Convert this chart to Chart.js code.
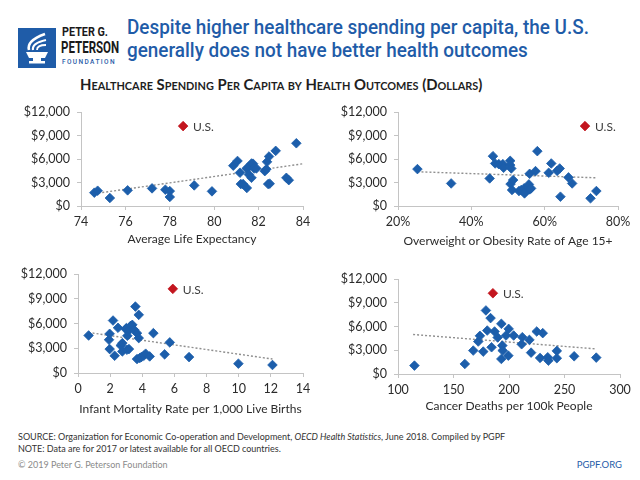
<!DOCTYPE html>
<html><head><meta charset="utf-8">
<script src="https://cdn.jsdelivr.net/npm/chart.js@4"></script>
<style>
html,body{margin:0;padding:0;background:#fff}
body{width:640px;height:480px;position:relative;overflow:hidden;font-family:Lato,"Open Sans",sans-serif}
.abs{position:absolute}
canvas{position:absolute}
#title{left:127px;top:16px;color:#1f5ca8;font-family:Roboto,sans-serif;font-weight:500;font-size:21px;line-height:23px;white-space:nowrap;transform:scaleX(0.9);transform-origin:0 0}
#sub{left:80px;top:75px;font-weight:700;font-size:15px;font-variant:small-caps;color:#1e1e1e;white-space:nowrap;transform:scaleX(0.99);transform-origin:0 0}
.foot{left:18px;font-size:9px;color:#333;white-space:nowrap}
</style></head><body>

<div class="abs" style="left:18px;top:28px;width:38px;height:40px;background:#1f5ca8">
<svg width="38" height="40" viewBox="0 0 38 40">
 <path d="M11 22 C9 15,16 10,27 6" stroke="#fff" stroke-width="2.6" fill="none"/>
 <path d="M15 22 C14 17,19 14,28 12" stroke="#fff" stroke-width="2.2" fill="none"/>
 <path d="M19 22 C19 19,22 17,28 17" stroke="#fff" stroke-width="1.8" fill="none"/>
 <path d="M8 24 H30 L27 30 H11 Z" fill="#fff"/>
 <rect x="15" y="30" width="8" height="3" fill="#fff"/>
 <rect x="11" y="33" width="16" height="2.5" fill="#fff"/>
</svg>
</div>
<div class="abs" style="left:62px;top:26px;font-family:Roboto,sans-serif;font-weight:700;font-size:12px;color:#1a1a1a;line-height:13px;transform:scaleX(0.9);transform-origin:0 0">PETER G.</div>
<div class="abs" style="left:61px;top:39px;font-family:Roboto,sans-serif;font-weight:700;font-size:16px;color:#1a1a1a;line-height:17px;transform:scaleX(0.72);transform-origin:0 0">PETERSON</div>
<div class="abs" style="left:62px;top:58px;font-family:Roboto,sans-serif;font-weight:500;font-size:6.5px;color:#1f5ca8;letter-spacing:1.4px;line-height:8px">FOUNDATION</div>

<div class="abs" id="title">Despite higher healthcare spending per capita, the U.S.<br>generally does not have better health outcomes</div>
<div class="abs" id="sub">Healthcare Spending Per Capita by Health Outcomes (Dollars)</div>

<canvas id="c1" width="320" height="155" style="left:0;top:95px;width:320px;height:155px"></canvas>
<canvas id="c2" width="320" height="155" style="left:320px;top:95px;width:320px;height:155px"></canvas>
<canvas id="c3" width="320" height="160" style="left:0;top:258px;width:320px;height:160px"></canvas>
<canvas id="c4" width="320" height="160" style="left:320px;top:258px;width:320px;height:160px"></canvas>

<div class="abs foot" style="top:431px;line-height:12px">SOURCE: Organization for Economic Co-operation and Development, <i>OECD Health Statistics</i>, June 2018. Compiled by PGPF<br>NOTE: Data are for 2017 or latest available for all OECD countries.</div>
<div class="abs foot" style="top:459px;color:#8a8a8a">© 2019 Peter G. Peterson Foundation</div>
<div class="abs" style="right:18px;top:459px;font-size:9.5px;color:#1f5ca8">PGPF.ORG</div>

<script>
// ---------- data ----------
const usSpend = 10200;

const lifeExp = [74.6, 74.75, 75.3, 76.1, 77.2, 77.8, 78.0, 78.0, 79.1, 79.9, 80.86, 81.05, 81.16, 81.2, 81.3, 81.47, 81.46, 81.56, 81.56, 81.68, 81.68, 81.75, 81.8, 81.9, 82.28, 82.35, 82.38, 82.47, 82.43, 82.5, 82.77, 83.25, 83.36, 83.7];
const lifeSpend = [1700, 1950, 1020, 2000, 2250, 2080, 1900, 1150, 2630, 1870, 5150, 5750, 4250, 2800, 2800, 2300, 4790, 5000, 4030, 5430, 3600, 5400, 4790, 4790, 4450, 4700, 5640, 6320, 2800, 2850, 7040, 3600, 3300, 8010];
const usLife = 78.6;
const lifeTrendX = [74.6, 84];
const lifeTrendY = [1570, 5390];

const obesity = [25.3, 34.5, 45.0, 45.9, 46.5, 47.5, 48.6, 48.8, 50.6, 50.6, 50.9, 50.7, 51.4, 51.1, 53.0, 53.6, 54.4, 54.8, 54.5, 55.5, 55.7, 55.9, 56.3, 55.9, 57.5, 58.0, 61.1, 61.8, 63.4, 64.1, 64.3, 66.5, 67.5, 72.5, 74.1];
const obesitySpend = [4710, 2880, 3520, 6360, 5430, 5340, 5340, 4880, 5770, 5220, 4790, 2800, 3310, 2040, 1910, 2040, 2250, 1820, 1610, 2460, 2760, 2120, 2250, 4110, 4450, 7000, 4240, 5430, 4490, 4790, 1190, 3650, 2880, 980, 1910];
const usObesity = 71.0;
const obesityTrendX = [25.3, 74.1];
const obesityTrendY = [4370, 3600];

const infant = [0.66, 1.93, 1.97, 1.97, 2.18, 2.28, 2.49, 2.66, 2.76, 2.76, 2.97, 3.01, 3.05, 3.07, 3.17, 3.22, 3.28, 3.38, 3.49, 3.57, 3.67, 3.67, 3.78, 3.78, 3.84, 3.94, 4.09, 4.21, 4.46, 4.69, 5.39, 5.71, 6.91, 9.98, 12.1];
const infantSpend = [4550, 4030, 4750, 2900, 6360, 2090, 5480, 3340, 3620, 2620, 5320, 5440, 2820, 4510, 2900, 5240, 5720, 5840, 5240, 8050, 4830, 1690, 7050, 4230, 1810, 1930, 2090, 2340, 2010, 4830, 2260, 3710, 1930, 1130, 970];
const usInfant = 5.9;
const infantTrendX = [0.66, 12.1];
const infantTrendY = [4910, 1690];

const cancer = [114.8, 160.2, 167.8, 172.3, 173.8, 176.8, 179.2, 180.4, 183.4, 184.3, 187.0, 189.8, 193.1, 193.1, 194.0, 194.3, 197.3, 199.4, 199.7, 204.2, 211.4, 212.0, 218.4, 219.9, 225.0, 228.0, 230.4, 234.9, 235.5, 243.1, 243.1, 258.7, 278.6];
const cancerSpend = [1060, 1270, 2960, 4100, 4820, 2830, 8030, 5490, 7060, 3380, 5370, 4610, 6340, 1900, 3590, 2960, 4860, 2320, 5700, 4860, 3760, 4650, 4310, 2700, 5370, 2030, 5160, 2110, 1690, 2920, 1990, 2240, 2070];
const usCancer = 185.5;
const cancerTrendX = [113.6, 278.6];
const cancerTrendY = [4990, 3170];

// ---------- styling ----------
const BLUE = '#1c5eab';
const RED = '#c3161f';
const AXIS = '#c4c4c4';
const TXT = '#2b2b2b';
const FONT = 'Lato';

const usLabel = {
  id: 'usLabel',
  afterDatasetsDraw(chart) {
    const el = chart.getDatasetMeta(2).data[0];
    const c = chart.ctx;
    c.save();
    c.font = '12px ' + FONT;
    c.fillStyle = '#3c3c3c';
    c.textAlign = 'left';
    c.textBaseline = 'middle';
    c.fillText('U.S.', el.x + 10, el.y + 1);
    c.restore();
  }
};

function panel(id, xs, ys, usX, tX, tY, xs_opts, g) {
  const pts = xs.map((x, i) => ({x: x, y: ys[i]}));
  const trend = tX.map((x, i) => ({x: x, y: tY[i]}));
  new Chart(document.getElementById(id), {
    type: 'scatter',
    data: {
      datasets: [
        {label: 'trend', type: 'line', data: trend, borderColor: '#8f8f8f', borderWidth: 1.4,
         borderDash: [2, 2], pointRadius: 0, fill: false, order: 3},
        {label: 'OECD', data: pts, pointStyle: 'rectRot', pointRadius: 4.8, backgroundColor: BLUE,
         borderColor: BLUE, borderWidth: 0.8, order: 2},
        {label: 'U.S.', data: [{x: usX, y: usSpend}], pointStyle: 'rectRot', pointRadius: 4.8,
         backgroundColor: RED, borderColor: RED, borderWidth: 0.8, order: 1}
      ]
    },
    options: {
      responsive: false, animation: false, devicePixelRatio: 1,
      layout: {padding: {top: g.pt, right: g.pr, left: 0, bottom: 0}},
      plugins: {legend: {display: false}, tooltip: {enabled: false}},
      scales: {
        x: {
          type: 'linear', min: xs_opts.min, max: xs_opts.max,
          ticks: {stepSize: xs_opts.step, callback: xs_opts.fmt, font: {family: FONT, size: 12.5}, color: TXT, padding: 4, maxRotation: 0},
          grid: {display: true, drawOnChartArea: false, drawTicks: true, tickLength: 4, color: AXIS},
          border: {color: AXIS},
          title: {display: true, text: xs_opts.title, font: {family: FONT, size: 12}, color: TXT, padding: {top: 0, bottom: g.tb}},
          afterFit: s => { s.height = g.xh; }
        },
        y: {
          min: 0, max: 12000,
          ticks: {stepSize: 3000, callback: v => '$' + v.toLocaleString('en-US'), font: {family: FONT, size: 12.5}, color: TXT, padding: 7},
          grid: {display: true, drawOnChartArea: false, drawTicks: true, tickLength: 4, color: AXIS},
          border: {color: AXIS},
          afterFit: s => { s.width = g.yw; }
        }
      }
    },
    plugins: [usLabel]
  });
}

panel('c1', lifeExp, lifeSpend, usLife, lifeTrendX, lifeTrendY,
  {min: 74, max: 84, step: 2, fmt: v => v, title: 'Average Life Expectancy'},
  {yw: 81, pr: 17, pt: 17, xh: 44, tb: 4});
panel('c2', obesity, obesitySpend, usObesity, obesityTrendX, obesityTrendY,
  {min: 20, max: 80, step: 20, fmt: v => v + '%', title: 'Overweight or Obesity Rate of Age 15+'},
  {yw: 78, pr: 22, pt: 17, xh: 44, tb: 2});
panel('c3', infant, infantSpend, usInfant, infantTrendX, infantTrendY,
  {min: 0, max: 14, step: 2, fmt: v => v, title: 'Infant Mortality Rate per 1,000 Live Births'},
  {yw: 78, pr: 17, pt: 16, xh: 45, tb: 1.5});
panel('c4', cancer, cancerSpend, usCancer, cancerTrendX, cancerTrendY,
  {min: 100, max: 300, step: 50, fmt: v => v, title: 'Cancer Deaths per 100k People'},
  {yw: 78, pr: 20, pt: 21, xh: 44, tb: 5});
</script>
</body></html>
